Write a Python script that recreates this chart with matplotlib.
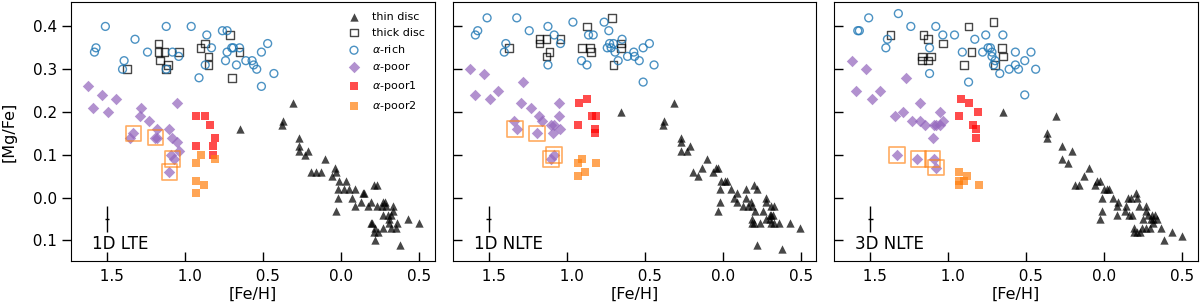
import numpy as np
import matplotlib
matplotlib.use("Agg")
import matplotlib.pyplot as plt
from matplotlib.ticker import FuncFormatter, MultipleLocator

# [Fe/H], [Mg/Fe] pairs

# --- 1D LTE ---
thin_lte = [(-0.65, 0.16), (-0.31, 0.22), (-0.37, 0.18), (-0.38, 0.17), (-0.27, 0.14), (-0.27, 0.12),
            (-0.27, 0.11), (-0.21, 0.11), (-0.23, 0.10), (-0.10, 0.09), (-0.19, 0.06), (-0.16, 0.06),
            (-0.13, 0.06), (-0.04, 0.07), (-0.03, 0.06), (-0.06, 0.05), (-0.01, 0.04), (0.03, 0.04),
            (-0.02, 0.02), (0.02, 0.02), (0.05, 0.02), (0.09, 0.02), (-0.02, 0.00), (0.07, 0.00),
            (-0.03, -0.03), (0.09, -0.02), (0.13, -0.01), (0.14, 0.01), (0.15, 0.01), (0.17, -0.02),
            (0.19, -0.01), (0.21, 0.03), (0.23, 0.03), (0.23, -0.02), (0.26, -0.02), (0.27, -0.01),
            (0.28, -0.01), (0.29, -0.02), (0.30, -0.04), (0.31, -0.05), (0.32, -0.04), (0.33, -0.02),
            (0.33, -0.03), (0.31, -0.06), (0.35, -0.07), (0.36, -0.06), (0.43, -0.05), (0.50, -0.06),
            (0.19, -0.06), (0.20, -0.06), (0.22, -0.07), (0.22, -0.10), (0.24, -0.08), (0.27, -0.07),
            (0.27, -0.04), (0.32, -0.07), (0.38, -0.11), (0.21, -0.08)]
thick_lte = [(-1.37, 0.30), (-1.17, 0.36), (-1.17, 0.34), (-1.16, 0.32), (-1.13, 0.34), (-1.11, 0.31),
             (-1.12, 0.30), (-1.04, 0.34), (-0.90, 0.35), (-0.87, 0.36), (-0.85, 0.33), (-0.85, 0.31),
             (-0.71, 0.38), (-0.70, 0.28), (-0.65, 0.34)]
rich_lte = [(-1.58, 0.34), (-1.57, 0.35), (-1.51, 0.40), (-1.32, 0.37), (-1.39, 0.32), (-1.40, 0.30),
            (-1.24, 0.34), (-1.12, 0.40), (-1.12, 0.30), (-1.08, 0.34), (-1.04, 0.33), (-0.96, 0.40),
            (-0.91, 0.28), (-0.86, 0.38), (-0.83, 0.35), (-0.87, 0.31), (-0.76, 0.39), (-0.73, 0.39),
            (-0.73, 0.34), (-0.74, 0.32), (-0.70, 0.35), (-0.69, 0.35), (-0.67, 0.31), (-0.65, 0.35),
            (-0.61, 0.32), (-0.57, 0.32), (-0.56, 0.31), (-0.54, 0.30), (-0.51, 0.34), (-0.51, 0.26),
            (-0.47, 0.36), (-0.43, 0.29)]
poor_lte = [(-1.62, 0.26), (-1.59, 0.21), (-1.53, 0.24), (-1.49, 0.20), (-1.44, 0.23), (-1.28, 0.21),
            (-1.29, 0.19), (-1.23, 0.18), (-1.18, 0.16), (-1.19, 0.14), (-1.18, 0.14), (-1.33, 0.15),
            (-1.35, 0.14), (-1.10, 0.16), (-1.08, 0.14), (-1.05, 0.13), (-1.04, 0.11), (-1.09, 0.10),
            (-1.07, 0.09), (-1.10, 0.06), (-1.05, 0.22)]
poor1_lte = [(-0.93, 0.19), (-0.87, 0.19), (-0.84, 0.17), (-0.81, 0.14), (-0.82, 0.12), (-0.93, 0.12),
             (-0.82, 0.10)]
poor2_lte = [(-0.90, 0.10), (-0.93, 0.08), (-0.81, 0.09), (-0.93, 0.04), (-0.88, 0.03), (-0.93, 0.01)]
boxed_lte = [(-1.33, 0.15), (-1.19, 0.14), (-1.08, 0.09), (-1.10, 0.06)]

# --- 1D NLTE ---
thin_nlte = [(-0.65, 0.20), (-0.31, 0.22), (-0.375, 0.18), (-0.38, 0.17), (-0.27, 0.14), (-0.27, 0.13),
             (-0.27, 0.11), (-0.23, 0.11), (-0.21, 0.12), (-0.10, 0.09), (-0.19, 0.06), (-0.16, 0.05),
             (-0.13, 0.07), (-0.06, 0.06), (-0.04, 0.07), (-0.03, 0.07), (-0.01, 0.04), (0.015, 0.04),
             (0.025, 0.04), (-0.02, 0.02), (-0.02, -0.01), (-0.03, -0.03), (0.05, 0.02), (0.07, 0.00),
             (0.09, -0.01), (0.09, 0.01), (0.13, -0.02), (0.15, 0.02), (0.15, 0.00), (0.165, -0.02),
             (0.18, -0.01), (0.20, 0.03), (0.22, 0.02), (0.19, -0.02), (0.21, -0.03), (0.26, -0.03),
             (0.275, 0.00), (0.28, -0.01), (0.31, -0.02), (0.33, -0.02), (0.30, -0.04), (0.31, -0.04),
             (0.325, -0.04), (0.28, -0.05), (0.30, -0.05), (0.19, -0.05), (0.19, -0.06), (0.20, -0.06),
             (0.24, -0.06), (0.31, -0.06), (0.33, -0.06), (0.36, -0.06), (0.43, -0.06), (0.495, -0.07),
             (0.22, -0.11), (0.38, -0.12)]
thick_nlte = [(-1.37, 0.35), (-1.175, 0.37), (-1.175, 0.36), (-1.13, 0.37), (-1.11, 0.34), (-1.13, 0.33),
              (-1.04, 0.37), (-0.90, 0.35), (-0.87, 0.40), (-0.85, 0.35), (-0.845, 0.34), (-0.71, 0.42),
              (-0.70, 0.31), (-0.65, 0.36), (-0.65, 0.35)]
rich_nlte = [(-1.585, 0.38), (-1.57, 0.39), (-1.51, 0.42), (-1.32, 0.42), (-1.24, 0.39), (-1.39, 0.36),
             (-1.40, 0.34), (-1.12, 0.31), (-1.12, 0.40), (-1.08, 0.38), (-1.04, 0.36), (-0.96, 0.41),
             (-0.905, 0.32), (-0.87, 0.31), (-0.86, 0.38), (-0.83, 0.38), (-0.76, 0.41), (-0.73, 0.39),
             (-0.74, 0.35), (-0.725, 0.36), (-0.715, 0.35), (-0.70, 0.36), (-0.69, 0.34), (-0.67, 0.32),
             (-0.645, 0.37), (-0.61, 0.33), (-0.57, 0.34), (-0.565, 0.33), (-0.535, 0.32), (-0.51, 0.35),
             (-0.47, 0.36), (-0.44, 0.31), (-0.51, 0.27)]
poor_nlte = [(-1.62, 0.30), (-1.53, 0.29), (-1.59, 0.24), (-1.49, 0.23), (-1.44, 0.25), (-1.28, 0.27),
             (-1.29, 0.22), (-1.23, 0.21), (-1.18, 0.19), (-1.16, 0.18), (-1.05, 0.22), (-1.05, 0.19),
             (-1.08, 0.17), (-1.10, 0.17), (-1.04, 0.16), (-1.09, 0.15), (-1.34, 0.18), (-1.32, 0.16),
             (-1.19, 0.15), (-1.08, 0.10), (-1.10, 0.09)]
poor1_nlte = [(-0.92, 0.22), (-0.87, 0.23), (-0.84, 0.19), (-0.81, 0.19), (-0.82, 0.16), (-0.82, 0.15),
              (-0.93, 0.17)]
poor2_nlte = [(-0.90, 0.09), (-0.93, 0.08), (-0.81, 0.08), (-0.88, 0.06), (-0.93, 0.05)]
boxed_nlte = [(-1.33, 0.16), (-1.19, 0.15), (-1.08, 0.10), (-1.10, 0.09)]

# --- 3D NLTE ---
thin_3d = [(-0.65, 0.20), (-0.31, 0.19), (-0.37, 0.15), (-0.37, 0.14), (-0.27, 0.12), (-0.21, 0.11),
           (-0.27, 0.09), (-0.23, 0.08), (-0.10, 0.07), (-0.13, 0.05), (-0.19, 0.03), (-0.16, 0.03),
           (-0.05, 0.04), (-0.03, 0.04), (-0.06, 0.03), (0.00, 0.02), (0.02, 0.02), (0.03, 0.02),
           (-0.015, 0.00), (0.055, 0.00), (-0.015, -0.03), (-0.03, -0.05), (0.08, -0.02), (0.09, -0.01),
           (0.08, -0.04), (0.14, -0.02), (0.13, -0.03), (0.15, 0.00), (0.16, -0.04), (0.18, -0.04),
           (0.20, 0.01), (0.21, 0.00), (0.17, 0.00), (0.22, -0.02), (0.27, -0.02), (0.27, -0.03),
           (0.28, -0.04), (0.305, -0.04), (0.325, -0.04), (0.315, -0.05), (0.30, -0.05), (0.31, -0.06),
           (0.25, -0.05), (0.34, -0.05), (0.36, -0.07), (0.29, -0.07), (0.24, -0.07), (0.19, -0.07),
           (0.21, -0.08), (0.19, -0.08), (0.23, -0.08), (0.27, -0.07), (0.38, -0.10), (0.435, -0.08),
           (0.50, -0.09)]
thick_3d = [(-1.37, 0.38), (-1.16, 0.38), (-1.13, 0.37), (-1.035, 0.36), (-1.17, 0.33), (-1.11, 0.33),
            (-1.17, 0.32), (-1.13, 0.32), (-0.87, 0.40), (-0.71, 0.41), (-0.85, 0.34), (-0.90, 0.31),
            (-0.655, 0.35), (-0.65, 0.33), (-0.70, 0.31)]
rich_3d = [(-1.58, 0.39), (-1.57, 0.39), (-1.51, 0.42), (-1.32, 0.43), (-1.39, 0.37), (-1.40, 0.35),
           (-1.24, 0.40), (-1.12, 0.35), (-1.12, 0.29), (-1.08, 0.40), (-1.035, 0.38), (-0.96, 0.38),
           (-0.91, 0.34), (-0.87, 0.27), (-0.83, 0.37), (-0.78, 0.34), (-0.76, 0.38), (-0.745, 0.35),
           (-0.73, 0.35), (-0.72, 0.34), (-0.72, 0.33), (-0.70, 0.32), (-0.71, 0.31), (-0.67, 0.29),
           (-0.65, 0.38), (-0.61, 0.30), (-0.57, 0.34), (-0.55, 0.30), (-0.47, 0.34), (-0.51, 0.32),
           (-0.44, 0.30), (-0.51, 0.24), (-0.57, 0.31)]
poor_3d = [(-1.62, 0.32), (-1.53, 0.30), (-1.59, 0.25), (-1.49, 0.23), (-1.44, 0.25), (-1.27, 0.28),
           (-1.18, 0.22), (-1.29, 0.20), (-1.34, 0.19), (-1.23, 0.18), (-1.18, 0.18), (-1.15, 0.17),
           (-1.09, 0.17), (-1.08, 0.17), (-1.05, 0.17), (-1.035, 0.18), (-1.05, 0.20), (-1.10, 0.14),
           (-1.33, 0.10), (-1.20, 0.09), (-1.09, 0.09), (-1.08, 0.07)]
poor1_3d = [(-0.92, 0.23), (-0.87, 0.22), (-0.81, 0.20), (-0.93, 0.19), (-0.84, 0.17), (-0.82, 0.16),
            (-0.82, 0.14)]
poor2_3d = [(-0.93, 0.06), (-0.88, 0.05), (-0.90, 0.04), (-0.93, 0.04), (-0.93, 0.03), (-0.805, 0.03)]
boxed_3d = [(-1.33, 0.10), (-1.19, 0.09), (-1.10, 0.09), (-1.08, 0.07)]

panel_names = ["1D LTE", "1D NLTE", "3D NLTE"]

# typical uncertainty drawn in the lower-left corner
err_feh, err_mgfe = -1.5, -0.05
err_x, err_y = 0.015, 0.03


def neg_hidden(v, pos):
    """Tick labels as in the original: the minus glyph is missing but still takes up room."""
    if v < -1e-9:
        return "  " + f"{abs(v):.1f}"
    return f"{abs(v):.1f}"


def draw_panel(ax, thin, thick, rich, poor, poor1, poor2, boxed, name, first=False):
    thin = np.array(thin)
    thick = np.array(thick)
    rich = np.array(rich)
    poor = np.array(poor)
    poor1 = np.array(poor1)
    poor2 = np.array(poor2)
    boxed = np.array(boxed)

    ax.scatter(thin[:, 0], thin[:, 1], marker="^", s=36, color="k", alpha=0.72,
               linewidths=0, label="thin disc")
    ax.scatter(thick[:, 0], thick[:, 1], marker="s", s=30, facecolors="none",
               edgecolors="k", alpha=0.72, linewidths=1.0, label="thick disc")
    ax.scatter(rich[:, 0], rich[:, 1], marker="o", s=32, facecolors="none",
               edgecolors="#1f77b4", alpha=0.8, linewidths=1.0, label=r"$\alpha$-rich")
    ax.scatter(poor[:, 0], poor[:, 1], marker="D", s=34, color="#9467bd", alpha=0.72,
               linewidths=0, label=r"$\alpha$-poor")
    ax.scatter(poor1[:, 0], poor1[:, 1], marker="s", s=26, color="red", alpha=0.7,
               linewidths=0, label=r"$\alpha$-poor1")
    ax.scatter(poor2[:, 0], poor2[:, 1], marker="s", s=26, color="#ff7f0e", alpha=0.7,
               linewidths=0, label=r"$\alpha$-poor2")
    ax.scatter(boxed[:, 0], boxed[:, 1], marker="s", s=125, facecolors="none",
               edgecolors="#ff7f0e", alpha=0.65, linewidths=1.2)

    ax.errorbar(err_feh, err_mgfe, xerr=err_x, yerr=err_y, color="k", lw=1.0, capsize=0)
    ax.text(0.058, 0.045, name, transform=ax.transAxes, fontsize=12,
            ha="left", va="baseline")

    ax.set_xlim(-1.73, 0.60)
    ax.set_ylim(-0.148, 0.457)
    ax.xaxis.set_major_locator(MultipleLocator(0.5))
    ax.yaxis.set_major_locator(MultipleLocator(0.1))
    ax.xaxis.set_major_formatter(FuncFormatter(neg_hidden))
    ax.yaxis.set_major_formatter(FuncFormatter(neg_hidden))
    ax.tick_params(axis="x", direction="in", length=6.5, width=1.0, labelsize=11, pad=6)
    ax.set_xlabel("[Fe/H]", fontsize=11.5, labelpad=2)

    if first:
        ax.tick_params(axis="y", direction="out", length=6.5, width=1.0, labelsize=11)
        ax.set_ylabel("[Mg/Fe]", fontsize=11.5)
        ax.yaxis.set_label_coords(-0.15, 0.5)
        ax.legend(loc="upper right", frameon=False, fontsize=8, labelspacing=0.5,
                  handletextpad=0.6, scatterpoints=1)
    else:
        ax.tick_params(axis="y", direction="in", length=6.5, width=1.0, labelleft=False)


fig = plt.figure(figsize=(12, 3.06), dpi=100)
bottom, height, width = 0.147, 0.8464, 0.3030
ax1 = fig.add_axes([0.0592, bottom, width, height])
ax2 = fig.add_axes([0.3773, bottom, width, height])
ax3 = fig.add_axes([0.6953, bottom, width, height])

draw_panel(ax1, thin_lte, thick_lte, rich_lte, poor_lte, poor1_lte, poor2_lte, boxed_lte,
           panel_names[0], first=True)
draw_panel(ax2, thin_nlte, thick_nlte, rich_nlte, poor_nlte, poor1_nlte, poor2_nlte, boxed_nlte,
           panel_names[1])
draw_panel(ax3, thin_3d, thick_3d, rich_3d, poor_3d, poor1_3d, poor2_3d, boxed_3d,
           panel_names[2])

fig.savefig("out.png", dpi=100)
print("Done")
